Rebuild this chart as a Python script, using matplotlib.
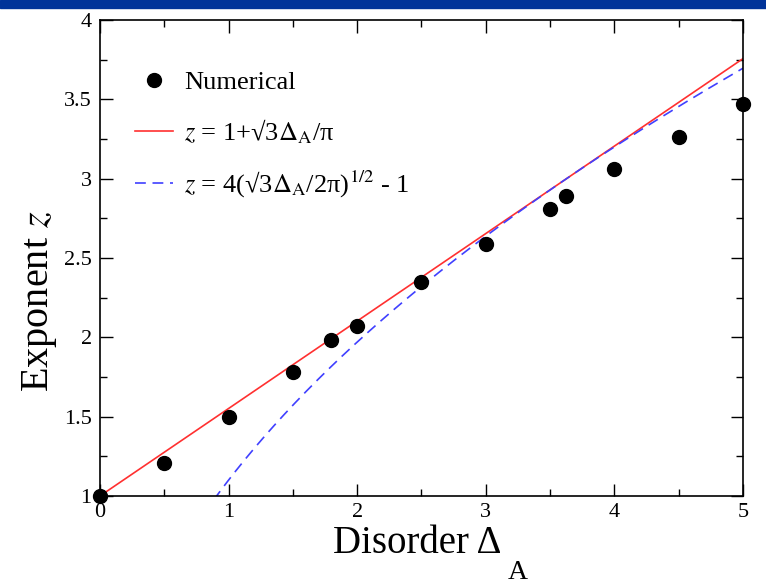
import numpy as np
import matplotlib
matplotlib.use("Agg")
import matplotlib.pyplot as plt
from matplotlib.patches import Rectangle

plt.rcParams['font.family'] = ['Liberation Serif', 'DejaVu Serif']
plt.rcParams['mathtext.fontset'] = 'stix'

# numerical exponent values
disorder = [0.0, 0.5, 1.0, 1.5, 1.8, 2.0, 2.5, 3.0, 3.5, 3.62, 4.0, 4.5, 5.0]
exponent = [1.0, 1.21, 1.50, 1.78, 1.98, 2.07, 2.35, 2.59, 2.81, 2.89, 3.06, 3.26, 3.47]

x_ticks = [0, 1, 2, 3, 4, 5]
y_ticks = [1, 1.5, 2, 2.5, 3, 3.5, 4]
y_ticklabels = ['1', '1.5', '2', '2.5', '3', '3.5', '4']

# theory curves given in the legend
d_lin = np.array([0.0, 5.0])
z_lin = 1 + np.sqrt(3) * d_lin / np.pi
d_sqrt = np.linspace(0.0, 5.0, 400)
z_sqrt = 4 * np.sqrt(np.sqrt(3) * d_sqrt / (2 * np.pi)) - 1

fig = plt.figure(figsize=(7.66, 5.88), dpi=100)
fig.patches.append(Rectangle((0, 0.986), 1, 0.014, transform=fig.transFigure,
                             color='#003399', zorder=0))
ax = fig.add_axes([0.1305, 0.1565, 0.8395, 0.8095])

ax.plot(d_lin, z_lin, color='#ff3030', lw=1.2,
        label=r'$z$ = 1+√3$\Delta_{\rm A}$/π')
ax.plot(d_sqrt, z_sqrt, color='#4040ff', lw=1.2, ls=(0, (6.5, 4)),
        label=r'$z$ = 4(√3$\Delta_{\rm A}$/2π)$^{1/2}$ - 1')
ax.plot(disorder, exponent, 'o', color='black', ms=10, ls='none',
        label='Numerical', zorder=5, clip_on=False)

ax.set_xlim(0, 5)
ax.set_ylim(1, 4)
ax.set_xticks(x_ticks)
ax.set_xticks(np.arange(0.5, 5, 1.0), minor=True)
ax.set_yticks(y_ticks)
ax.set_yticklabels(y_ticklabels)
ax.set_yticks(np.arange(1.25, 4, 0.5), minor=True)
ax.tick_params(which='both', direction='in', top=True, right=True,
               labelsize=16, width=1)
ax.tick_params(which='major', length=9)
ax.tick_params(axis='y', which='major', pad=6)
ax.tick_params(axis='x', which='major', pad=5)
ax.tick_params(which='minor', length=5)
for s in ax.spines.values():
    s.set_linewidth(1.2)

# x label with a deep subscript, as in the original
ax.set_xlabel('Disorder Δ', fontsize=28)
ax.xaxis.set_label_coords(0.494, -0.06)
ax.annotate('A', xy=(1, 0), xycoords=ax.xaxis.label, xytext=(4, -12.5),
            textcoords='offset points', fontsize=20, ha='left', va='baseline')
ax.set_ylabel(r'Exponent $z$', fontsize=29)
ax.yaxis.set_label_coords(-0.064, 0.41)

h, l = ax.get_legend_handles_labels()
ax.legend([h[2], h[0], h[1]], [l[2], l[0], l[1]], loc='upper left',
          bbox_to_anchor=(0.054, 0.894), frameon=False, fontsize=19,
          borderpad=0, borderaxespad=0,
          handlelength=1.45, labelspacing=0.88, handletextpad=0.42)

fig.savefig('out.png', dpi=100)
